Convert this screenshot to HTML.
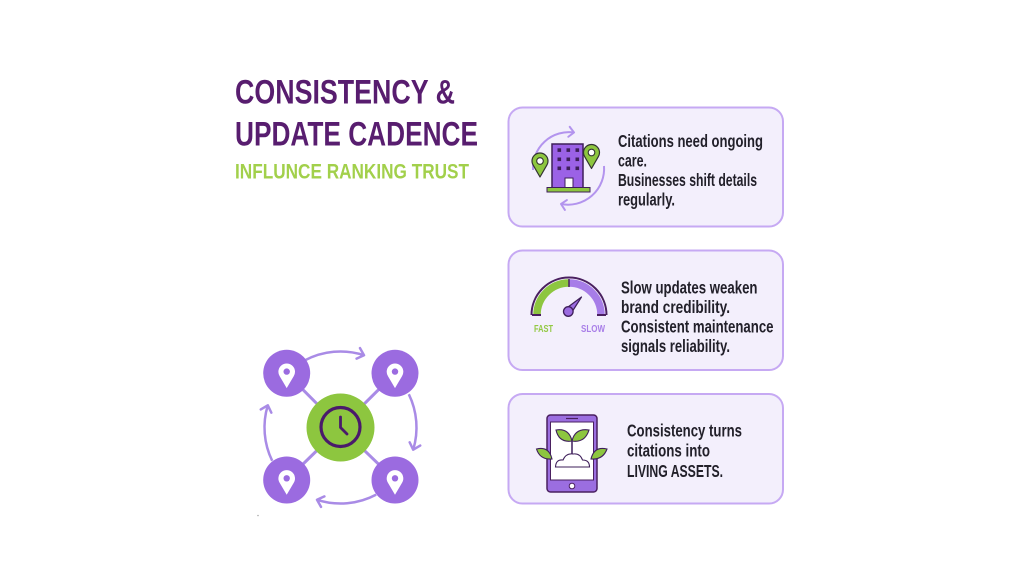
<!DOCTYPE html>
<html>
<head>
<meta charset="utf-8">
<style>
html,body{margin:0;padding:0;background:#fff;}
svg{display:block;}
</style>
</head>
<body>
<svg width="1024" height="576" viewBox="0 0 1024 576" xmlns="http://www.w3.org/2000/svg">
<defs>
<marker id="ah" markerUnits="userSpaceOnUse" markerWidth="14" markerHeight="14" refX="8" refY="7" orient="auto">
<path d="M2,1.5 L8,7 L2,12.5" fill="none" stroke="#a98be6" stroke-width="2.5" stroke-linecap="round" stroke-linejoin="round"/>
</marker>
<marker id="ah2" markerUnits="userSpaceOnUse" markerWidth="14" markerHeight="14" refX="7" refY="7" orient="auto">
<path d="M2,2 L7,7 L2,12" fill="none" stroke="#b394ee" stroke-width="2" stroke-linecap="round" stroke-linejoin="round"/>
</marker>
</defs>
<rect width="1024" height="576" fill="#fff"/>

<!-- Title -->
<g font-family="'Liberation Sans', sans-serif" font-weight="700">
<text x="235" y="103.5" font-size="34" fill="#581d6f" textLength="220" lengthAdjust="spacingAndGlyphs">CONSISTENCY &amp;</text>
<text x="235" y="145.5" font-size="34" fill="#581d6f" textLength="243" lengthAdjust="spacingAndGlyphs">UPDATE CADENCE</text>
<text x="235" y="178.5" font-size="21.5" fill="#a2d04b" textLength="234" lengthAdjust="spacingAndGlyphs">INFLUNCE RANKING TRUST</text>
</g>

<!-- Cards -->
<rect x="508.5" y="107.5" width="274.5" height="119" rx="14" fill="#f3effc" stroke="#c6a9f3" stroke-width="2"/>
<rect x="508.5" y="250.5" width="274.5" height="119.5" rx="14" fill="#f3effc" stroke="#c6a9f3" stroke-width="2"/>
<rect x="508.5" y="394" width="274.5" height="109.5" rx="14" fill="#f3effc" stroke="#c6a9f3" stroke-width="2"/>

<g font-family="'Liberation Sans', sans-serif" font-weight="700" font-size="17.5" fill="#22202a">
<text x="618" y="147" textLength="145" lengthAdjust="spacingAndGlyphs">Citations need ongoing</text>
<text x="618" y="166.5" textLength="29" lengthAdjust="spacingAndGlyphs">care.</text>
<text x="618" y="186" textLength="139" lengthAdjust="spacingAndGlyphs">Businesses shift details</text>
<text x="618" y="205.5" textLength="57" lengthAdjust="spacingAndGlyphs">regularly.</text>

<text x="621" y="293.5" textLength="136.5" lengthAdjust="spacingAndGlyphs">Slow updates weaken</text>
<text x="621" y="313" textLength="109" lengthAdjust="spacingAndGlyphs">brand credibility.</text>
<text x="621" y="332.5" textLength="152.5" lengthAdjust="spacingAndGlyphs">Consistent maintenance</text>
<text x="621" y="352" textLength="109" lengthAdjust="spacingAndGlyphs">signals reliability.</text>

<text x="627" y="436.5" textLength="115" lengthAdjust="spacingAndGlyphs">Consistency turns</text>
<text x="627" y="456.5" textLength="83" lengthAdjust="spacingAndGlyphs">citations into</text>
<text x="627" y="477" textLength="96" lengthAdjust="spacingAndGlyphs">LIVING ASSETS.</text>
</g>

<!-- Icon 1: building -->
<path d="M533,170 A36,36 0 0 1 574,132.5" fill="none" stroke="#b394ee" stroke-width="2" marker-end="url(#ah2)"/>
<path d="M604,166 A36,36 0 0 1 561,204" fill="none" stroke="#b394ee" stroke-width="2" marker-end="url(#ah2)"/>
<rect x="552" y="144" width="31" height="44" fill="#9b62e6" stroke="#3e1f5a" stroke-width="1.5"/>
<g fill="#3e1f5a">
<rect x="557.5" y="148.3" width="3.6" height="3.6"/><rect x="566.5" y="148.3" width="3.6" height="3.6"/><rect x="575.5" y="148.3" width="3.6" height="3.6"/>
<rect x="557.5" y="157.5" width="3.6" height="3.6"/><rect x="566.5" y="157.5" width="3.6" height="3.6"/><rect x="575.5" y="157.5" width="3.6" height="3.6"/>
<rect x="557.5" y="166.5" width="3.6" height="3.6"/><rect x="566.5" y="166.5" width="3.6" height="3.6"/><rect x="575.5" y="166.5" width="3.6" height="3.6"/>
</g>
<rect x="565" y="178" width="8" height="10" fill="#fff" stroke="#3e1f5a" stroke-width="1"/>
<rect x="547" y="187.5" width="43" height="4.5" fill="#8dc63f" stroke="#3e1f5a" stroke-width="1"/>
<g transform="translate(540,161)">
<path d="M0,16 L-6.8,4.2 A8,8 0 1 1 6.8,4.2 Z" fill="#8dc63f" stroke="#333" stroke-width="1.2" stroke-linejoin="round"/>
<circle cx="0" cy="0" r="3.3" fill="#fff" stroke="#333" stroke-width="1.1"/>
</g>
<g transform="translate(591.5,152.5)">
<path d="M0,16 L-6.8,4.2 A8,8 0 1 1 6.8,4.2 Z" fill="#8dc63f" stroke="#333" stroke-width="1.2" stroke-linejoin="round"/>
<circle cx="0" cy="0" r="3.3" fill="#fff" stroke="#333" stroke-width="1.1"/>
</g>

<!-- Icon 2: gauge -->
<path d="M531.5,315 A37.5,37.5 0 0 1 606.5,315" fill="none" stroke="#4a2060" stroke-width="2"/>
<path d="M537,315 A32,32 0 0 1 569,283" fill="none" stroke="#8dc63f" stroke-width="7.5"/>
<path d="M569,283 A32,32 0 0 1 601,315" fill="none" stroke="#a77de8" stroke-width="7.5"/>
<line x1="569" y1="279" x2="569" y2="287" stroke="#4a2060" stroke-width="1.5"/>
<line x1="532" y1="315" x2="541" y2="315" stroke="#4a2060" stroke-width="2"/>
<line x1="597" y1="315" x2="606" y2="315" stroke="#4a2060" stroke-width="2"/>
<path d="M566,308.5 L581.5,297 L571,313.5 Z" fill="#9b6be0" stroke="#3e1f5a" stroke-width="1.2" stroke-linejoin="round"/>
<circle cx="568.3" cy="311.5" r="4.8" fill="#9b6be0" stroke="#3e1f5a" stroke-width="1.3"/>
<g font-family="'Liberation Sans', sans-serif" font-weight="700" font-size="10.5">
<text x="534" y="332" fill="#93c944" textLength="19" lengthAdjust="spacingAndGlyphs">FAST</text>
<text x="581" y="332" fill="#a97fe8" textLength="24" lengthAdjust="spacingAndGlyphs">SLOW</text>
</g>

<!-- Icon 3: tablet -->
<rect x="547" y="415" width="50" height="77" rx="3.5" fill="#9b6ee0" stroke="#4a2060" stroke-width="1.5"/>
<rect x="550.5" y="422" width="43" height="58" fill="#fff" stroke="#4a2060" stroke-width="1"/>
<line x1="566" y1="418.5" x2="578" y2="418.5" stroke="#4a2060" stroke-width="1.2"/>
<circle cx="572" cy="486" r="2.8" fill="#fff" stroke="#4a2060" stroke-width="1"/>
<line x1="572" y1="456" x2="572" y2="440" stroke="#3e1f5a" stroke-width="1.5"/>
<path d="M572,441 Q559,443 556,430 Q569,428 572,441 Z" fill="#8dc63f" stroke="#3e1f5a" stroke-width="1.1"/>
<path d="M572,441 Q585,443 589,430 Q575,428 572,441 Z" fill="#8dc63f" stroke="#3e1f5a" stroke-width="1.1"/>
<path d="M552,459 Q540,460 536.5,449 Q549,446 552,459 Z" fill="#8dc63f" stroke="#3e1f5a" stroke-width="1.1"/>
<path d="M591,459 Q603,460 607,449 Q594,446 591,459 Z" fill="#8dc63f" stroke="#3e1f5a" stroke-width="1.1"/>
<path d="M555.5,467 Q556,459 563,460 Q566,453 573,454 Q580,453 582.5,460 Q589.5,460 589.5,467 Z" fill="#fff" stroke="#3e1f5a" stroke-width="1.1"/>

<!-- Cycle diagram -->
<g stroke="#a98be6" stroke-width="3">
<line x1="340.5" y1="427.5" x2="286.7" y2="373.3"/>
<line x1="340.5" y1="427.5" x2="395" y2="373.3"/>
<line x1="340.5" y1="427.5" x2="286.7" y2="480"/>
<line x1="340.5" y1="427.5" x2="395" y2="480"/>
</g>
<g fill="none" stroke="#a98be6" stroke-width="2.5">
<path d="M304.8,360.4 A76,76 0 0 1 364,355.2" marker-end="url(#ah)"/>
<path d="M408.8,394.2 A76,76 0 0 1 413.2,449.7" marker-end="url(#ah)"/>
<path d="M376.2,494.6 A76,76 0 0 1 317,499.8" marker-end="url(#ah)"/>
<path d="M272.2,460.8 A76,76 0 0 1 267.8,405.3" marker-end="url(#ah)"/>
</g>
<circle cx="340.5" cy="427.5" r="34" fill="#8dc63f"/>
<circle cx="340.5" cy="427" r="19.5" fill="none" stroke="#4a1a6b" stroke-width="3.2"/>
<path d="M340.5,417 L340.5,427.5 L347,434" fill="none" stroke="#4a1a6b" stroke-width="2.8" stroke-linecap="round" stroke-linejoin="round"/>

<g fill="#9b6be0">
<circle cx="286.7" cy="373.3" r="23.5"/>
<circle cx="395" cy="373.3" r="23.5"/>
<circle cx="286.7" cy="480" r="23.5"/>
<circle cx="395" cy="480" r="23.5"/>
</g>
<g>
<g transform="translate(286.7,371.6)"><path d="M0,16.5 L-7,4.6 A8.3,8.3 0 1 1 7,4.6 Z" fill="#fff"/><circle r="3.2" fill="#9b6be0"/></g>
<g transform="translate(395,371.6)"><path d="M0,16.5 L-7,4.6 A8.3,8.3 0 1 1 7,4.6 Z" fill="#fff"/><circle r="3.2" fill="#9b6be0"/></g>
<g transform="translate(286.7,478.3)"><path d="M0,16.5 L-7,4.6 A8.3,8.3 0 1 1 7,4.6 Z" fill="#fff"/><circle r="3.2" fill="#9b6be0"/></g>
<g transform="translate(395,478.3)"><path d="M0,16.5 L-7,4.6 A8.3,8.3 0 1 1 7,4.6 Z" fill="#fff"/><circle r="3.2" fill="#9b6be0"/></g>
</g>
<circle cx="258" cy="515.5" r="0.8" fill="#aaa"/>
</svg>
</body>
</html>
